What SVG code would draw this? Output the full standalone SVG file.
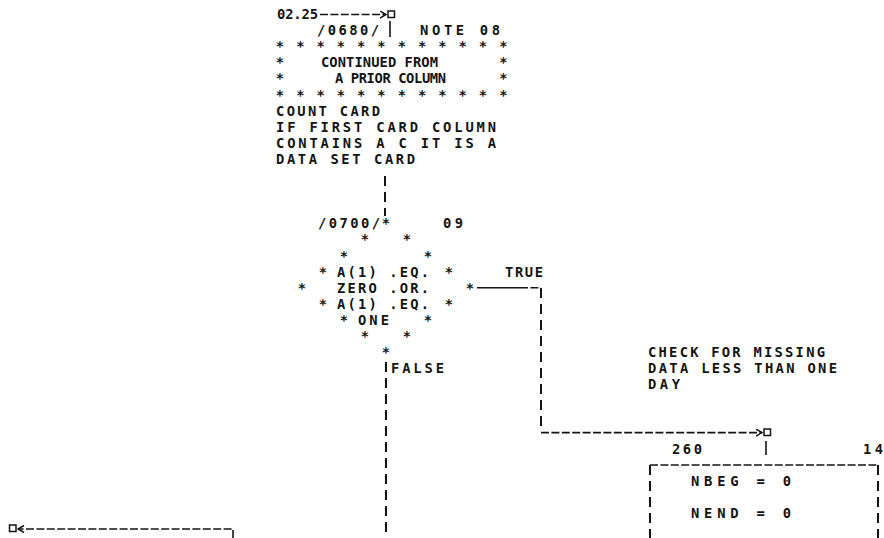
<svg xmlns="http://www.w3.org/2000/svg" width="884" height="538" viewBox="0 0 884 538">
<style>
.t{font-family:"DejaVu Sans Mono","Liberation Mono",monospace;font-size:13.8px;font-weight:bold;fill:#141414}
.s{font-family:"DejaVu Sans Mono","Liberation Mono",monospace;font-size:13.8px;font-weight:bold;fill:#141414;text-anchor:middle}
.h{fill:none;stroke:#141414;stroke-width:1.6;stroke-dasharray:8 2.4}
.v{fill:none;stroke:#141414;stroke-width:2;stroke-dasharray:10 6}
.sol{fill:none;stroke:#141414;stroke-width:1.6}
.box{fill:none;stroke:#141414;stroke-width:1.5}
</style>
<defs>
<marker id="arr" markerUnits="userSpaceOnUse" markerWidth="8" markerHeight="9" refX="6.5" refY="4" orient="auto">
<path d="M0.5,0.5 L6.5,4 L0.5,7.5" fill="none" stroke="#141414" stroke-width="1.5"/>
</marker>
</defs>
<rect width="884" height="538" fill="#ffffff"/>

<g id="entry">
<text class="t" x="277" y="19" textLength="41" lengthAdjust="spacing">02.25</text>
<rect class="box" x="388" y="11" width="6.5" height="6.5"/>
</g>

<g id="note08">
<text class="t" x="317" y="35.1" textLength="62" lengthAdjust="spacing">/0680/</text>
<text class="t" x="420" y="35.1" textLength="80" lengthAdjust="spacing">NOTE  08</text>
<text class="s" x="280" y="51.2">*</text><text class="s" x="300.3" y="51.2">*</text><text class="s" x="320.6" y="51.2">*</text><text class="s" x="340.9" y="51.2">*</text><text class="s" x="361.2" y="51.2">*</text><text class="s" x="381.5" y="51.2">*</text><text class="s" x="401.8" y="51.2">*</text><text class="s" x="422.1" y="51.2">*</text><text class="s" x="442.4" y="51.2">*</text><text class="s" x="462.7" y="51.2">*</text><text class="s" x="483" y="51.2">*</text><text class="s" x="503.3" y="51.2">*</text>
<text class="s" x="280" y="67.3">*</text><text class="s" x="503.3" y="67.3">*</text>
<text class="t" x="321" y="67.3" textLength="117" lengthAdjust="spacing">CONTINUED FROM</text>
<text class="s" x="280" y="83.4">*</text><text class="s" x="503.3" y="83.4">*</text>
<text class="t" x="335" y="83.4" textLength="111" lengthAdjust="spacing">A PRIOR COLUMN</text>
<text class="s" x="280" y="99.5">*</text><text class="s" x="300.3" y="99.5">*</text><text class="s" x="320.6" y="99.5">*</text><text class="s" x="340.9" y="99.5">*</text><text class="s" x="361.2" y="99.5">*</text><text class="s" x="381.5" y="99.5">*</text><text class="s" x="401.8" y="99.5">*</text><text class="s" x="422.1" y="99.5">*</text><text class="s" x="442.4" y="99.5">*</text><text class="s" x="462.7" y="99.5">*</text><text class="s" x="483" y="99.5">*</text><text class="s" x="503.3" y="99.5">*</text>
<text class="t" x="276" y="115.6" textLength="104" lengthAdjust="spacing">COUNT CARD</text>
<text class="t" x="276" y="131.7" textLength="220" lengthAdjust="spacing">IF FIRST CARD COLUMN</text>
<text class="t" x="276" y="147.8" textLength="220" lengthAdjust="spacing">CONTAINS A C IT IS A</text>
<text class="t" x="276" y="163.9" textLength="139" lengthAdjust="spacing">DATA SET CARD</text>
</g>

<g id="decision09">
<text class="t" x="318" y="228.3" textLength="62" lengthAdjust="spacing">/0700/</text>
<text class="t" x="443" y="228.3" textLength="20" lengthAdjust="spacing">09</text>
<text class="s" x="386" y="228.3">*</text>
<text class="s" x="365" y="244.4">*</text><text class="s" x="407" y="244.4">*</text>
<text class="s" x="344" y="260.5">*</text><text class="s" x="428" y="260.5">*</text>
<text class="s" x="323" y="276.6">*</text><text class="s" x="449" y="276.6">*</text>
<text class="t" x="337" y="276.6" textLength="92" lengthAdjust="spacing">A(1) .EQ.</text>
<text class="t" x="505" y="276.6" textLength="38" lengthAdjust="spacing">TRUE</text>
<text class="s" x="302" y="292.7">*</text><text class="s" x="470" y="292.7">*</text>
<text class="t" x="337" y="292.7" textLength="92" lengthAdjust="spacing">ZERO .OR.</text>
<text class="s" x="323" y="308.8">*</text><text class="s" x="449" y="308.8">*</text>
<text class="t" x="337" y="308.8" textLength="92" lengthAdjust="spacing">A(1) .EQ.</text>
<text class="s" x="344" y="324.9">*</text><text class="s" x="428" y="324.9">*</text>
<text class="t" x="358" y="324.9" textLength="31" lengthAdjust="spacing">ONE</text>
<text class="s" x="365" y="341">*</text><text class="s" x="407" y="341">*</text>
<text class="s" x="386" y="357.1">*</text>
<text class="t" x="391" y="373.2" textLength="53" lengthAdjust="spacing">FALSE</text>
</g>

<g id="comment260">
<text class="t" x="648" y="357.1" textLength="177" lengthAdjust="spacing">CHECK FOR MISSING</text>
<text class="t" x="648" y="373.2" textLength="189" lengthAdjust="spacing">DATA LESS THAN ONE</text>
<text class="t" x="648" y="389.3" textLength="32" lengthAdjust="spacing">DAY</text>
</g>

<g id="process260">
<rect class="box" x="764" y="429" width="6.5" height="6.5"/>
<text class="t" x="672" y="453.7" textLength="30" lengthAdjust="spacing">260</text>
<text class="t" x="863" y="453.7" textLength="20" lengthAdjust="spacing">14</text>
<path class="h" d="M650,465 H878"/>
<path class="v" d="M650,465 V538 M878,465 V538"/>
<text class="t" x="691" y="485.9" textLength="100" lengthAdjust="spacing">NBEG = 0</text>
<text class="t" x="691" y="518.1" textLength="100" lengthAdjust="spacing">NEND = 0</text>
</g>

<g id="exit">
<rect class="box" x="9.5" y="525" width="6.5" height="6.5"/>
</g>

<g id="connectors">
<path class="h" d="M320,14.5 H386" marker-end="url(#arr)"/>
<path class="sol" d="M390,21 V37"/>
<path class="v" d="M385,176 V216"/>
<path class="sol" d="M477,287.7 H520"/>
<path class="h" d="M520,287.7 H541"/>
<path class="v" d="M541,288 V432"/>
<path class="h" d="M541,432.6 H762" marker-end="url(#arr)"/>
<path class="v" d="M386,362 V538"/>
<path class="sol" d="M766,441 V455"/>
<path class="h" d="M233,538 V529 H18" marker-end="url(#arr)"/>
</g>
</svg>
